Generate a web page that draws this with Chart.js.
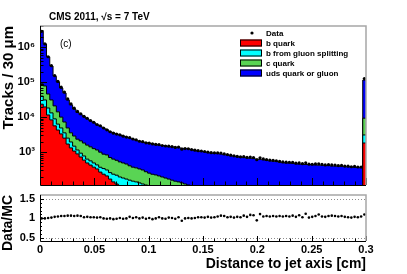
<!DOCTYPE html>
<html>
<head>
<meta charset="utf-8">
<script src="https://cdn.jsdelivr.net/npm/chart.js@4.4.1/dist/chart.umd.min.js"></script>
<style>
  html, body { margin: 0; padding: 0; background: #fff; }
  #wrap { position: relative; width: 407px; height: 274px; }
  #wrap canvas { position: absolute; left: 0; top: 0; }
</style>
</head>
<body>
<div id="wrap">
  <canvas id="main" width="407" height="274"></canvas>
  <canvas id="ratio" width="407" height="274"></canvas>
</div>
<script>
// Track distance to jet axis, stacked MC (b, b from g->bb, c, uds/g) + data, with Data/MC ratio.
const BIN_W = 0.003;          // 30 um bins, cm
const X_MAX = 0.3;
const X_TICKS = [0, 0.05, 0.1, 0.15, 0.2, 0.25, 0.3];
const Y_TICKS = [1e3, 1e4, 1e5, 1e6];
const Y_MIN = 115;
const Y_MAX = 4.0e6;
const RATIO_TICKS = [0.5, 1, 1.5];
const RATIO_MIN = 0.42;
const RATIO_MAX = 1.6;
const SUP = { 3: '\u00b3', 4: '\u2074', 5: '\u2075', 6: '\u2076' };

// last bin holds the overflow
const bQuark = [
  23400, 19500, 11500, 8320, 5620, 4270, 3310, 2510, 1700, 1320,
  1070, 890, 725, 590, 490, 427, 372, 331, 269, 234,
  209, 170, 141, 123, 107, 95, 85, 76, 68, 61,
  55, 50, 46, 42, 39, 36, 34, 32, 30, 28,
  27, 26, 26, 25, 25, 24, 24, 23, 23, 22,
  22, 22, 21, 21, 21, 20, 20, 20, 19, 19,
  19, 18, 18, 18, 18, 17, 17, 17, 17, 16,
  16, 16, 16, 16, 15, 15, 15, 15, 15, 15,
  14, 14, 14, 14, 14, 14, 14, 13, 13, 13,
  13, 13, 13, 13, 13, 12, 12, 12, 12, 1820,
];
const bGluonSplit = [
  16400, 11400, 6700, 4880, 3290, 2040, 1590, 1040, 810, 630,
  410, 260, 208, 186, 141, 135, 118, 100, 100, 105,
  100, 90, 93, 96, 88, 87, 85, 82, 80, 80,
  77, 73, 69, 65, 60, 56, 52, 48, 45, 42,
  40, 38, 36, 34, 32, 31, 30, 29, 28, 27,
  26, 25, 25, 24, 24, 23, 23, 22, 22, 21,
  21, 20, 20, 20, 19, 19, 19, 18, 18, 18,
  17, 17, 17, 17, 16, 16, 16, 16, 15, 15,
  15, 15, 15, 14, 14, 14, 14, 14, 13, 13,
  13, 13, 13, 13, 12, 12, 12, 12, 12, 1270,
];
const cQuark = [
  49300, 46700, 27500, 17700, 12000, 7800, 5100, 3690, 2390, 1600,
  1400, 1190, 1160, 1040, 954, 851, 769, 721, 628, 536,
  523, 441, 397, 365, 330, 308, 287, 249, 224, 214,
  199, 186, 160, 144, 134, 131, 123, 115, 107, 100,
  91, 84, 79, 73, 66, 60, 54, 50, 47, 44,
  42, 40, 38, 37, 36, 35, 34, 33, 32, 31,
  31, 30, 30, 29, 29, 28, 28, 27, 27, 26,
  26, 26, 25, 25, 25, 24, 24, 24, 23, 23,
  23, 22, 22, 22, 22, 21, 21, 21, 21, 20,
  20, 20, 20, 19, 19, 19, 19, 18, 18, 6240,
];
const udsg = [
  2729000, 1152000, 479000, 257000, 127000, 85900, 57600, 41800, 26000, 18800,
  14100, 11200, 9660, 8410, 7330, 6350, 5660, 4880, 4500, 4010,
  3540, 3110, 2920, 2720, 2570, 2390, 2230, 2100, 1970, 1830,
  1710, 1640, 1590, 1530, 1510, 1440, 1380, 1350, 1330, 1280,
  1260, 1230, 1210, 1160, 1140, 1120, 1070, 1020, 970, 950,
  930, 880, 860, 845, 825, 805, 765, 750, 712, 695,
  660, 645, 630, 615, 600, 586, 572, 558, 545, 518,
  505, 492, 481, 456, 445, 433, 434, 423, 413, 402,
  403, 392, 393, 383, 384, 374, 375, 365, 366, 356,
  357, 347, 348, 339, 340, 331, 332, 323, 316, 105000,
];
const dataOverMc = [
  1.00, 1.00, 1.01, 1.02, 1.04, 1.05, 1.06, 1.06, 1.07, 1.07,
  1.06, 1.07, 1.06, 1.03, 1.04, 1.03, 1.03, 1.02, 1.03, 1.00,
  0.99, 1.00, 0.98, 0.99, 1.01, 0.99, 1.00, 1.04, 1.01, 1.03,
  1.00, 1.02, 0.99, 1.01, 0.98, 1.00, 1.03, 1.00, 0.99, 1.02,
  1.01, 0.99, 1.03, 0.94, 1.00, 1.01, 1.00, 1.01, 1.03, 1.03,
  1.02, 1.04, 1.02, 1.03, 1.05, 1.07, 1.06, 1.03, 1.04, 1.02,
  1.04, 1.03, 1.07, 1.04, 1.09, 1.08, 0.95, 1.11, 1.05, 1.06,
  1.05, 1.06, 1.05, 1.06, 1.05, 1.06, 1.05, 1.07, 1.04, 1.08,
  1.03, 1.12, 1.02, 1.04, 1.06, 1.10, 1.05, 1.04, 1.06, 1.07,
  1.06, 1.05, 1.06, 1.04, 1.03, 1.02, 1.04, 1.03, 1.05, 1.10,
];

const COLORS = { b: '#ff0000', gsp: '#00ffff', c: '#59d454', uds: '#0000ff' };
const FONT = "'Liberation Sans', Arial, sans-serif";
Chart.defaults.font.family = FONT;
Chart.defaults.color = '#000';

function addArrays(...arrs) {
  return arrs[0].map((_, i) => arrs.reduce((s, a) => s + a[i], 0));
}
const cumGsp = addArrays(bQuark, bGluonSplit);
const cumC = addArrays(bQuark, bGluonSplit, cQuark);
const mcTotal = addArrays(bQuark, bGluonSplit, cQuark, udsg);
const dataVals = mcTotal.map((v, i) => v * dataOverMc[i]);

// points at the low bin edges + closing point, drawn with horizontal-first steps
function stepPoints(vals) {
  const pts = vals.map((v, i) => ({ x: i * BIN_W, y: v }));
  pts.push({ x: vals.length * BIN_W, y: vals[vals.length - 1] });
  return pts;
}
function centerPoints(vals) {
  return vals.map((v, i) => ({ x: (i + 0.5) * BIN_W, y: v }));
}
function histDataset(label, vals, color, order) {
  return {
    type: 'line', label, data: stepPoints(vals), order,
    stepped: 'before', fill: 'start', backgroundColor: color,
    borderColor: '#000', borderWidth: 1, pointRadius: 0,
  };
}

function xTickList(majorLen, minorLen) {
  const out = [];
  for (let k = 0; k <= 30; k++) out.push({ v: k / 100, len: k % 5 === 0 ? majorLen : minorLen });
  return out;
}
function logTickList(majorLen, minorLen) {
  const out = [];
  for (let d = 2; d <= 6; d++) {
    for (let m = 1; m <= 9; m++) {
      const v = m * 10 ** d;
      if (v >= Y_MIN && v <= Y_MAX) out.push({ v, len: m === 1 ? majorLen : minorLen });
    }
  }
  return out;
}
function ratioTickList(majorLen, minorLen) {
  const out = [];
  for (let k = 5; k <= 15; k++) out.push({ v: k / 10, len: k % 5 === 0 ? majorLen : minorLen });
  return out;
}

// ROOT-like frame: inside ticks, black axes, grey top/right border
const rootFrame = {
  id: 'rootFrame',
  afterDatasetsDraw(chart, args, opts) {
    const { ctx, chartArea: a, scales: { x, y } } = chart;
    ctx.save();
    if (opts.dotted) {
      ctx.strokeStyle = '#8c8c8c';
      ctx.setLineDash([1, 2]);
      ctx.beginPath();
      for (const v of opts.dotted) {
        const py = Math.round(y.getPixelForValue(v)) + 0.5;
        ctx.moveTo(a.left, py);
        ctx.lineTo(a.right, py);
      }
      ctx.stroke();
      ctx.setLineDash([]);
    }
    ctx.strokeStyle = '#000';
    ctx.lineWidth = 1;
    ctx.beginPath();
    for (const t of opts.xTicks) {
      const px = Math.round(x.getPixelForValue(t.v)) + 0.5;
      ctx.moveTo(px, a.bottom);
      ctx.lineTo(px, a.bottom - t.len);
    }
    for (const t of opts.yTicks) {
      const py = Math.round(y.getPixelForValue(t.v)) + 0.5;
      ctx.moveTo(a.left, py);
      ctx.lineTo(a.left + t.len, py);
    }
    ctx.stroke();
    ctx.strokeStyle = '#a6a6a6';
    ctx.lineWidth = 1.5;
    ctx.beginPath();
    ctx.moveTo(a.left, a.top);
    ctx.lineTo(a.right, a.top);
    ctx.lineTo(a.right, a.bottom);
    ctx.stroke();
    ctx.strokeStyle = '#000';
    ctx.lineWidth = 1;
    ctx.beginPath();
    ctx.moveTo(a.left + 0.5, a.top);
    ctx.lineTo(a.left + 0.5, a.bottom + 0.5);
    ctx.lineTo(a.right, a.bottom + 0.5);
    ctx.stroke();
    ctx.restore();
  },
};

const LEGEND = [
  { label: 'Data', marker: true },
  { label: 'b quark', color: COLORS.b },
  { label: 'b from gluon splitting', color: COLORS.gsp },
  { label: 'c quark', color: COLORS.c },
  { label: 'uds quark or gluon', color: COLORS.uds },
];

const annotations = {
  id: 'annotations',
  afterDraw(chart) {
    const { ctx } = chart;
    ctx.save();
    ctx.fillStyle = '#000';
    ctx.textBaseline = 'middle';
    ctx.textAlign = 'left';
    ctx.font = `bold 10px ${FONT}`;
    ctx.fillText('CMS 2011, \u221as = 7 TeV', 49, 17);
    ctx.font = `10px ${FONT}`;
    ctx.fillText('(c)', 60, 44);

    ctx.font = `bold 8px ${FONT}`;
    LEGEND.forEach((item, i) => {
      const cy = 33 + i * 10;
      if (item.marker) {
        ctx.beginPath();
        ctx.arc(252, cy, 1.6, 0, Math.PI * 2);
        ctx.fillStyle = '#000';
        ctx.fill();
      } else {
        ctx.fillStyle = item.color;
        ctx.fillRect(240, cy - 3.5, 22, 7);
        ctx.strokeStyle = '#000';
        ctx.lineWidth = 1;
        ctx.strokeRect(240.5, cy - 3, 21, 6);
      }
      ctx.fillStyle = '#000';
      ctx.fillText(item.label, 266, cy + 0.5);
    });
    ctx.restore();
  },
};

const tickFont = { size: 11, weight: 'bold' };

new Chart(document.getElementById('main'), {
  data: {
    datasets: [
      {
        type: 'scatter', label: 'Data', data: centerPoints(dataVals), order: 1,
        pointRadius: 1.6, pointStyle: 'circle', backgroundColor: '#000', borderWidth: 0,
      },
      histDataset('b quark', bQuark, COLORS.b, 2),
      histDataset('b from gluon splitting', cumGsp, COLORS.gsp, 3),
      histDataset('c quark', cumC, COLORS.c, 4),
      histDataset('uds quark or gluon', mcTotal, COLORS.uds, 5),
    ],
  },
  options: {
    responsive: false,
    animation: false,
    events: [],
    layout: { padding: { left: 0, top: 26, right: 41, bottom: 89 } },
    plugins: {
      legend: { display: false },
      tooltip: { enabled: false },
      rootFrame: { xTicks: xTickList(7, 3.5), yTicks: logTickList(7, 3.5) },
    },
    scales: {
      x: { type: 'linear', min: 0, max: X_MAX, display: false },
      y: {
        type: 'logarithmic', min: Y_MIN, max: Y_MAX,
        afterFit(s) { s.width = 40; },
        afterBuildTicks(s) { s.ticks = Y_TICKS.map((v) => ({ value: v })); },
        grid: { display: false, drawTicks: false },
        border: { display: false },
        ticks: {
          padding: 5, font: tickFont, color: '#000',
          callback: (v) => '10' + SUP[Math.round(Math.log10(v))],
        },
        title: {
          display: true, text: 'Tracks / 30 \u03bcm', align: 'end',
          font: { size: 15, weight: 'bold' }, color: '#000', padding: 0,
        },
      },
    },
  },
  plugins: [rootFrame, annotations],
});

new Chart(document.getElementById('ratio'), {
  data: {
    datasets: [
      {
        type: 'scatter', label: 'Data/MC', data: centerPoints(dataOverMc),
        pointRadius: 1.3, pointStyle: 'circle', backgroundColor: '#000', borderWidth: 0,
      },
    ],
  },
  options: {
    responsive: false,
    animation: false,
    events: [],
    layout: { padding: { left: 0, top: 195, right: 41, bottom: 0 } },
    plugins: {
      legend: { display: false },
      tooltip: { enabled: false },
      rootFrame: { xTicks: xTickList(5, 2.5), yTicks: ratioTickList(4, 2), dotted: [0.5, 1.5] },
    },
    scales: {
      x: {
        type: 'linear', min: 0, max: X_MAX,
        afterFit(s) { s.height = 33; },
        afterBuildTicks(s) { s.ticks = X_TICKS.map((v) => ({ value: v })); },
        grid: { display: false, drawTicks: false },
        border: { display: false },
        ticks: { padding: 2, font: tickFont, color: '#000', maxRotation: 0, callback: (v) => String(+v.toFixed(2)) },
        title: {
          display: true, text: 'Distance to jet axis [cm]', align: 'end',
          font: { size: 14, weight: 'bold' }, color: '#000', padding: { top: 0, bottom: 1 },
        },
      },
      y: {
        type: 'linear', min: RATIO_MIN, max: RATIO_MAX,
        afterFit(s) { s.width = 40; },
        afterBuildTicks(s) { s.ticks = RATIO_TICKS.map((v) => ({ value: v })); },
        grid: { display: false, drawTicks: false },
        border: { display: false },
        ticks: { padding: 5, font: tickFont, color: '#000', callback: (v) => String(v) },
        title: {
          display: true, text: 'Data/MC', align: 'end',
          font: { size: 14, weight: 'bold' }, color: '#000', padding: 0,
        },
      },
    },
  },
  plugins: [rootFrame],
});
</script>
</body>
</html>
